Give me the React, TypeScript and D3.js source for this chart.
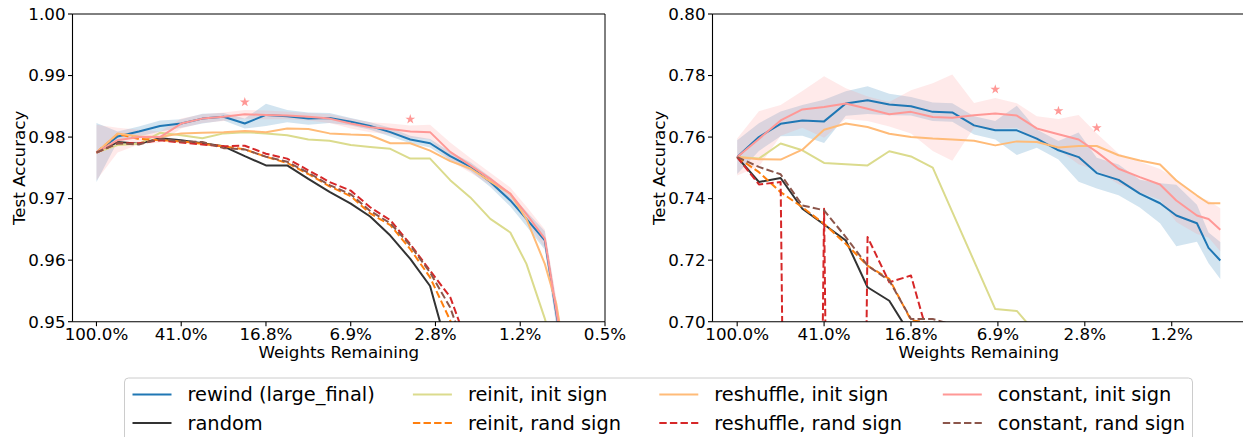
import React from 'react';
import * as d3 from 'd3';

// weights remaining (%) at each pruning round
const LEFT_X = [100, 80, 64, 51.2, 40.96, 32.77, 26.21, 20.97, 16.78, 13.42, 10.74, 8.59, 6.87,
  5.6, 4.53, 3.67, 2.98, 2.41, 1.95, 1.58, 1.28, 1.08, 0.89, 0.79, 0.7];
const RIGHT_X = [100, 80, 64, 51.2, 40.96, 32.77, 26.21, 20.97, 16.78, 13.42, 10.98, 8.78, 7.06,
  5.66, 4.61, 3.69, 3.0, 2.49, 1.99, 1.6, 1.3, 1.1, 0.89, 0.79, 0.7];

// left panel
const L_REWIND = [0.9775, 0.9801, 0.9809, 0.9818, 0.9822, 0.983, 0.9833, 0.9822, 0.9836, 0.9834, 0.983, 0.9831, 0.9825,
  0.9818, 0.9808, 0.9796, 0.979, 0.9769, 0.9752, 0.9727, 0.9697, 0.9667, 0.9632, 0.9515, 0.94];
const L_REWIND_STD = [0.0048, 0.0008, 0.0008, 0.0009, 0.0007, 0.0008, 0.0006, 0.0008, 0.0018, 0.001, 0.001, 0.0008, 0.0006,
  0.0006, 0.0007, 0.0006, 0.0007, 0.0007, 0.0007, 0.0008, 0.001, 0.0012, 0.0015, 0.002, 0.002];
const L_RANDOM = [0.9775, 0.9792, 0.9789, 0.9798, 0.9795, 0.979, 0.9785, 0.9769, 0.9754, 0.9754, 0.9732, 0.9711, 0.9692,
  0.9671, 0.964, 0.9602, 0.9558, 0.944];
const L_REINIT_INIT = [0.9775, 0.9787, 0.9789, 0.9807, 0.9803, 0.9798, 0.9806, 0.9808, 0.9806, 0.9803, 0.9796, 0.9794, 0.9787,
  0.9784, 0.9781, 0.9765, 0.9765, 0.973, 0.9702, 0.9667, 0.9645, 0.9594, 0.9505, 0.944];
const L_REINIT_RAND = [0.9775, 0.9805, 0.9797, 0.9795, 0.9793, 0.9789, 0.9785, 0.978, 0.9768, 0.9758, 0.974, 0.972, 0.9704,
  0.9676, 0.9657, 0.9618, 0.9572, 0.9502, 0.942];
const L_RESHUF_INIT = [0.9775, 0.9806, 0.9801, 0.98, 0.9806, 0.9807, 0.9808, 0.981, 0.9808, 0.9814, 0.9813, 0.9806, 0.9804,
  0.9803, 0.979, 0.979, 0.9778, 0.9761, 0.9749, 0.9728, 0.9708, 0.9667, 0.9594, 0.953, 0.942];
const L_RESHUF_RAND = [0.9775, 0.979, 0.979, 0.9795, 0.9791, 0.9788, 0.9785, 0.9786, 0.9773, 0.9765, 0.9746, 0.9727, 0.9713,
  0.9686, 0.9665, 0.9626, 0.9583, 0.954, 0.945];
const L_CONST_INIT = [0.9775, 0.9795, 0.98, 0.98, 0.9822, 0.983, 0.9833, 0.9837, 0.9836, 0.9835, 0.9833, 0.983, 0.9822,
  0.9816, 0.9813, 0.9809, 0.9808, 0.9776, 0.9754, 0.9732, 0.9708, 0.9675, 0.9635, 0.952, 0.94];
const L_CONST_INIT_STD = [0.0045, 0.002, 0.0012, 0.0009, 0.0008, 0.0007, 0.0007, 0.0007, 0.0007, 0.0006, 0.0006, 0.0007, 0.0008,
  0.0008, 0.0009, 0.001, 0.0012, 0.0015, 0.0012, 0.001, 0.001, 0.0012, 0.0015, 0.002, 0.002];
const L_CONST_RAND = [0.9775, 0.979, 0.9788, 0.9797, 0.9793, 0.9792, 0.9782, 0.978, 0.9768, 0.976, 0.9742, 0.9722, 0.9707,
  0.968, 0.966, 0.9624, 0.958, 0.9523, 0.943];
const L_STAR_X = [20.97, 3.67];
const L_STAR_Y = [0.98567, 0.9829];

// right panel
const R_REWIND = [0.7535, 0.76, 0.7643, 0.7654, 0.7651, 0.7709, 0.772, 0.7706, 0.77, 0.7682, 0.768, 0.7638, 0.7622,
  0.7622, 0.7595, 0.7557, 0.7535, 0.7483, 0.7461, 0.7416, 0.7385, 0.7345, 0.732, 0.724, 0.7199];
const R_REWIND_STD = [0.0055, 0.0045, 0.004, 0.005, 0.007, 0.004, 0.0045, 0.0035, 0.003, 0.003, 0.003, 0.003, 0.003,
  0.008, 0.003, 0.003, 0.008, 0.005, 0.005, 0.0045, 0.0065, 0.01, 0.006, 0.005, 0.006];
const R_RANDOM = [0.7535, 0.7454, 0.7467, 0.7367, 0.7316, 0.7264, 0.7112, 0.7068, 0.6955];
const R_REINIT_INIT = [0.7535, 0.753, 0.7579, 0.7557, 0.7516, 0.7512, 0.7508, 0.7554, 0.7537, 0.7501, 0.7357, 0.7197, 0.7041,
  0.7035, 0.696];
const R_REINIT_RAND = [0.7535, 0.7486, 0.7421, 0.7372, 0.7318, 0.7253, 0.7182, 0.7139, 0.7005, 0.6995];
const R_RESHUF_INIT = [0.7535, 0.7528, 0.7527, 0.7559, 0.7624, 0.7644, 0.7633, 0.7611, 0.76, 0.7595, 0.7592, 0.7588, 0.7573,
  0.7586, 0.7584, 0.7566, 0.7571, 0.7571, 0.7541, 0.7524, 0.7511, 0.7459, 0.741, 0.7385, 0.7385];
const R_RESHUF_RAND = [0.7535, 0.7446, 0.7454, 0.1, 0.7367, 0.1, 0.7275, 0.7128, 0.715, 0.69];
const R_CONST_INIT = [0.7535, 0.7594, 0.7654, 0.769, 0.7698, 0.7709, 0.7692, 0.7674, 0.7682, 0.7665, 0.7663, 0.7671, 0.7677,
  0.767, 0.7628, 0.7609, 0.7592, 0.7552, 0.7497, 0.747, 0.7446, 0.7394, 0.7345, 0.7334, 0.7299];
const R_CONST_INIT_STD = [0.006, 0.009, 0.005, 0.006, 0.01, 0.005, 0.004, 0.004, 0.007, 0.011, 0.014, 0.004, 0.005,
  0.004, 0.004, 0.005, 0.008, 0.006, 0.005, 0.005, 0.005, 0.007, 0.006, 0.006, 0.007];
const R_CONST_RAND = [0.7535, 0.7503, 0.7479, 0.7378, 0.7362, 0.7275, 0.7182, 0.7134, 0.7009, 0.7009, 0.699];
const R_STAR_X = [7.06, 3.69, 2.49];
const R_STAR_Y = [0.7755, 0.7685, 0.763];

const X_TICKS = [100, 40.96, 16.777, 6.872, 2.815, 1.153, 0.4722];
const X_TICK_LABELS = ['100.0%', '41.0%', '16.8%', '6.9%', '2.8%', '1.2%', '0.5%'];
const LEFT_Y_TICKS = [0.95, 0.96, 0.97, 0.98, 0.99, 1.0];
const RIGHT_Y_TICKS = [0.7, 0.72, 0.74, 0.76, 0.78, 0.8];

const LABELS = ['rewind (large_final)', 'random', 'reinit, init sign', 'reinit, rand sign',
  'reshuffle, init sign', 'reshuffle, rand sign', 'constant, init sign', 'constant, rand sign'];
const COLORS = ['#1f77b4', '#333333', '#dbdb8d', '#ff7f0e', '#ffbb78', '#d62728', '#ff9896', '#8c564b'];
const DASHED = [false, false, false, true, false, true, false, true];

const FONT = 'DejaVu Sans, sans-serif';
const TOP = 14;
const BOTTOM = 321.7;

interface Band { mean: number[]; std: number[]; color: string }

interface PanelProps {
  id: string;
  x0: number;
  x1: number;
  xDomain: [number, number];
  yDomain: [number, number];
  yTicks: number[];
  xs: number[];
  lines: number[][];
  bands: Band[];
  starX: number[];
  starY: number[];
}

const Panel: React.FC<PanelProps> = ({ id, x0, x1, xDomain, yDomain, yTicks, xs, lines, bands, starX, starY }) => {
  const x = d3.scaleLog().domain(xDomain).range([x0, x1]);
  const y = d3.scaleLinear().domain(yDomain).range([BOTTOM, TOP]);

  const line = d3.line<number>().x((_, i) => x(xs[i])).y(d => y(d));
  const area = (b: Band) =>
    d3.area<number>()
      .x((_, i) => x(xs[i]))
      .y0((d, i) => y(d - b.std[i]))
      .y1((d, i) => y(d + b.std[i]))(b.mean) || '';

  const star = d3.symbol(d3.symbolStar, 30)() || '';
  const xTicks = X_TICKS.map((t, i) => ({ t, label: X_TICK_LABELS[i] })).filter(
    d => x(d.t) >= x0 - 0.5 && x(d.t) <= x1 + 0.5,
  );

  return (
    <g>
      <defs>
        <clipPath id={`clip-${id}`}>
          <rect x={x0} y={TOP} width={x1 - x0} height={BOTTOM - TOP} />
        </clipPath>
      </defs>
      <g clipPath={`url(#clip-${id})`}>
        {bands.map((b, i) => (
          <path key={`b${i}`} d={area(b)} fill={b.color} fillOpacity={0.2} stroke="none" />
        ))}
        {lines.map((vals, i) => (
          <path
            key={`l${i}`}
            d={line(vals) || ''}
            fill="none"
            stroke={COLORS[i]}
            strokeWidth={2}
            strokeDasharray={DASHED[i] ? '7.4,3.2' : undefined}
            strokeLinejoin="round"
          />
        ))}
        {starX.map((sx, i) => (
          <path key={`s${i}`} d={star} transform={`translate(${x(sx)},${y(starY[i])})`} fill="#ff9896" />
        ))}
      </g>
      {/* spines */}
      <line x1={x0} x2={x1} y1={TOP} y2={TOP} stroke="#000" strokeWidth={1} />
      <line x1={x1} x2={x1} y1={TOP} y2={BOTTOM} stroke="#000" strokeWidth={1} />
      <line x1={x0} x2={x0} y1={TOP} y2={BOTTOM} stroke="#000" strokeWidth={1.1} />
      <line x1={x0} x2={x1} y1={BOTTOM} y2={BOTTOM} stroke="#000" strokeWidth={1.1} />
      {/* y ticks */}
      {yTicks.map(t => (
        <g key={`yt${t}`}>
          <line x1={x0 - 4.5} x2={x0} y1={y(t)} y2={y(t)} stroke="#000" strokeWidth={1.1} />
          <text x={x0 - 7} y={y(t)} dy="0.35em" textAnchor="end" fontSize={16.7} fill="#000">
            {d3.format('.2f')(t)}
          </text>
        </g>
      ))}
      {/* x ticks */}
      {xTicks.map(d => (
        <g key={`xt${d.label}`}>
          <line x1={x(d.t)} x2={x(d.t)} y1={BOTTOM} y2={BOTTOM + 4.5} stroke="#000" strokeWidth={1.1} />
          <text x={x(d.t)} y={340} textAnchor="middle" fontSize={16.7} fill="#000">
            {d.label}
          </text>
        </g>
      ))}
      <text x={(x0 + x1) / 2} y={358} textAnchor="middle" fontSize={16.7} fill="#000">
        Weights Remaining
      </text>
      <text
        transform={`translate(${x0 - 48},${(TOP + BOTTOM) / 2}) rotate(-90)`}
        textAnchor="middle"
        fontSize={16.7}
        fill="#000"
      >
        Test Accuracy
      </text>
    </g>
  );
};

const LEGEND_COL_X = [132.5, 412.9, 659.3, 942.8];
const LEGEND_ROW_Y = [394.5, 423];

const Legend: React.FC = () => (
  <g>
    <rect x={124.5} y={378} width={1068} height={80} rx={4} fill="#fff" fillOpacity={0.8} stroke="#cccccc" />
    {LABELS.map((label, i) => {
      const cx = LEGEND_COL_X[Math.floor(i / 2)];
      const cy = LEGEND_ROW_Y[i % 2];
      return (
        <g key={label}>
          <line
            x1={cx}
            x2={cx + 39}
            y1={cy}
            y2={cy}
            stroke={COLORS[i]}
            strokeWidth={2}
            strokeDasharray={DASHED[i] ? '7.4,3.2' : undefined}
          />
          <text x={cx + 55} y={cy} dy="0.35em" fontSize={19.4} fill="#000">
            {label}
          </text>
        </g>
      );
    })}
  </g>
);

export default function App() {
  const left = [L_REWIND, L_RANDOM, L_REINIT_INIT, L_REINIT_RAND, L_RESHUF_INIT, L_RESHUF_RAND, L_CONST_INIT, L_CONST_RAND];
  const right = [R_REWIND, R_RANDOM, R_REINIT_INIT, R_REINIT_RAND, R_RESHUF_INIT, R_RESHUF_RAND, R_CONST_INIT, R_CONST_RAND];

  return (
    <svg
      width={1243}
      height={437}
      style={{ position: 'absolute', left: 0, top: 0, background: '#fff' }}
      fontFamily={FONT}
    >
      <rect width={1243} height={437} fill="#fff" />
      <Panel
        id="left"
        x0={72.5}
        x1={605}
        xDomain={[128.7, 0.4722]}
        yDomain={[0.95, 1.0]}
        yTicks={LEFT_Y_TICKS}
        xs={LEFT_X}
        lines={left}
        bands={[
          { mean: L_REWIND, std: L_REWIND_STD, color: COLORS[0] },
          { mean: L_CONST_INIT, std: L_CONST_INIT_STD, color: COLORS[6] },
        ]}
        starX={L_STAR_X}
        starY={L_STAR_Y}
      />
      <Panel
        id="right"
        x0={712.5}
        x1={1245}
        xDomain={[128.85, 0.5432]}
        yDomain={[0.7, 0.8]}
        yTicks={RIGHT_Y_TICKS}
        xs={RIGHT_X}
        lines={right}
        bands={[
          { mean: R_REWIND, std: R_REWIND_STD, color: COLORS[0] },
          { mean: R_CONST_INIT, std: R_CONST_INIT_STD, color: COLORS[6] },
        ]}
        starX={R_STAR_X}
        starY={R_STAR_Y}
      />
      <Legend />
    </svg>
  );
}
